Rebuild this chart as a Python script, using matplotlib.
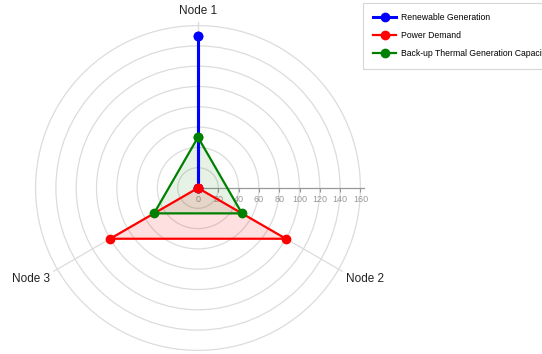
import numpy as np
import matplotlib
matplotlib.use("Agg")
from matplotlib import pyplot as plt
from matplotlib.patches import Circle

plt.rcParams['font.family'] = ['Liberation Sans', 'DejaVu Sans']

nodes = ['Node 1', 'Node 2', 'Node 3']
node_angles = [90, -30, 210]  # degrees, counter-clockwise from east

renewable = [150, 0, 0]
demand = [0, 100, 100]
backup = [50, 50, 50]

series = [
	('Renewable Generation', renewable, '#0000ff', 0.0, 2.2),
	('Power Demand', demand, '#ff0000', 0.12, 1.6),
	('Back-up Thermal Generation Capacity', backup, '#008000', 0.10, 1.6),
]

r_ticks = [0, 20, 40, 60, 80, 100, 120, 140, 160]
r_max = 160


def to_xy(values, angles):
	a = np.radians(angles)
	v = np.asarray(values, dtype=float)
	return v * np.cos(a), v * np.sin(a)


W, H = 542, 354
cx, cy = 198, 188
scale = 1.015

fig = plt.figure(figsize=(W / 100, H / 100), dpi=100)
ax = fig.add_axes([0, 0, 1, 1])
ax.set_xlim(-cx / scale, (W - cx) / scale)
ax.set_ylim(-(H - cy) / scale, cy / scale)
for s in ['left', 'right', 'top']:
	ax.spines[s].set_visible(False)
ax.yaxis.set_visible(False)

# grid circles
for r in r_ticks[1:]:
	ax.add_patch(Circle((0, 0), r, fill=False, ec='#dcdcdc', lw=0.9, zorder=1))

# spokes
for ang in node_angles:
	sx, sy = to_xy([0, r_max + 4], [ang, ang])
	ax.plot(sx, sy, color='#dcdcdc', lw=0.9, zorder=1)

# radial axis along the x axis
ax.spines['bottom'].set_position(('data', 0))
ax.spines['bottom'].set_bounds(0, r_max + 4)
ax.spines['bottom'].set_color('#999999')
ax.spines['bottom'].set_linewidth(0.9)
ax.set_xticks(r_ticks)
ax.set_xticklabels([str(t) for t in r_ticks])
ax.tick_params(axis='x', direction='out', length=3, width=0.8, color='#999999',
			   labelcolor='#999999', labelsize=6.5, pad=2)
ax.spines['bottom'].set_zorder(2)

# node labels
aligns = [('center', 'bottom'), ('left', 'top'), ('right', 'top')]
for name, ang, (ha, va) in zip(nodes, node_angles, aligns):
	lx, ly = to_xy([168], [ang])
	ax.text(lx[0], ly[0], name, ha=ha, va=va, fontsize=8.5, color='#222222')

# series
handles = []
for label, vals, col, alpha, lw in series:
	x, y = to_xy(vals + vals[:1], node_angles + node_angles[:1])
	if alpha > 0:
		ax.fill(x, y, color=col, alpha=alpha, lw=0, zorder=3)
	h, = ax.plot(x, y, color=col, lw=lw, marker='o', ms=6, zorder=4, label=label)
	handles.append(h)

# legend runs past the right edge, as in the original
leg = fig.legend(handles=handles, loc='upper left', bbox_to_anchor=(363 / W, 1 - 3 / H),
				 borderaxespad=0, fontsize=6.2, frameon=True, fancybox=False,
				 handlelength=2.6, labelspacing=1.05, borderpad=1.2, handletextpad=0.6)
leg.get_frame().set_edgecolor('#cccccc')
leg.get_frame().set_linewidth(0.8)

fig.savefig('out.png', dpi=100)
